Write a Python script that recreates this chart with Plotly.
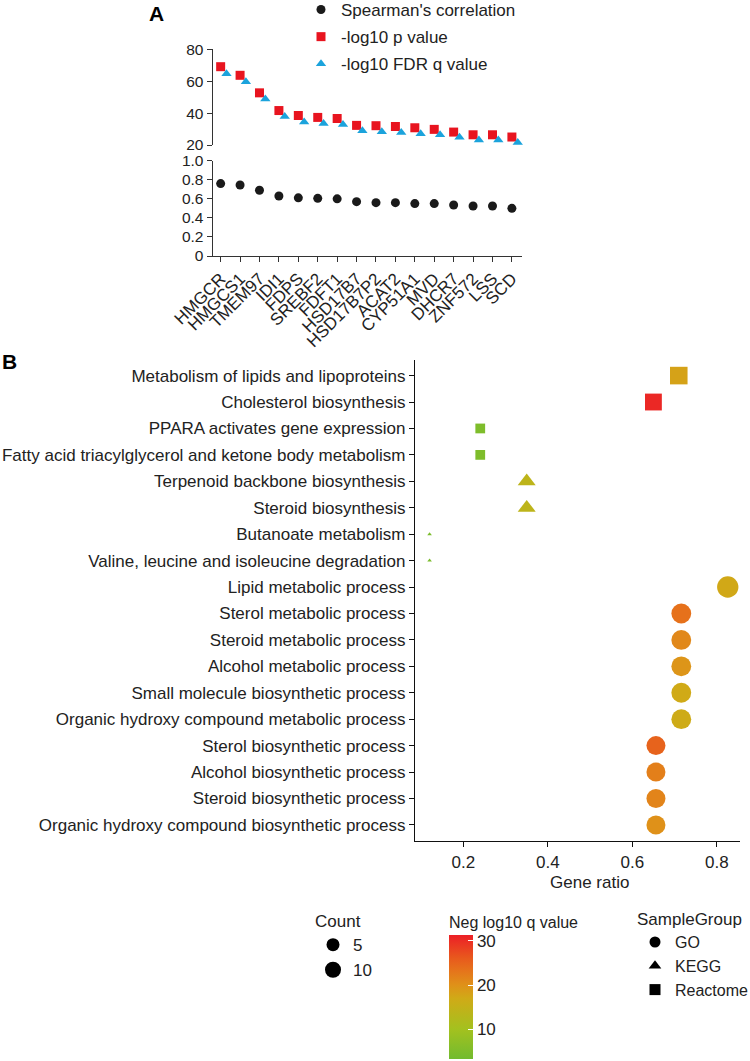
import plotly.graph_objects as go

W, H = 750, 1061
FONT = "Liberation Sans, Arial, sans-serif"
FS = 17

# ---------------- Panel A data ----------------
genes = ["HMGCR", "HMGCS1", "TMEM97", "IDI1", "FDPS", "SREBF2", "FDFT1", "HSD17B7",
         "HSD17B7P2", "ACAT2", "CYP51A1", "MVD", "DHCR7", "ZNF572", "LSS", "SCD"]
spearman = [0.76, 0.745, 0.69, 0.63, 0.61, 0.605, 0.60, 0.57,
            0.56, 0.56, 0.55, 0.55, 0.535, 0.525, 0.525, 0.50]
neglog_p = [69.1, 63.7, 52.7, 41.6, 38.5, 37.3, 36.6, 32.3,
            32.1, 31.6, 30.8, 29.8, 28.1, 26.4, 26.4, 25.0]
neglog_fdr = [64.6, 59.6, 48.8, 37.9, 34.4, 33.5, 32.9, 28.9,
              28.3, 27.9, 27.1, 26.4, 24.8, 23.1, 23.1, 21.6]

# ---------------- Panel B data ----------------
terms = ["Metabolism of lipids and lipoproteins", "Cholesterol biosynthesis",
         "PPARA activates gene expression", "Fatty acid triacylglycerol and ketone body metabolism",
         "Terpenoid backbone biosynthesis", "Steroid biosynthesis", "Butanoate metabolism",
         "Valine, leucine and isoleucine degradation", "Lipid metabolic process",
         "Sterol metabolic process", "Steroid metabolic process", "Alcohol metabolic process",
         "Small molecule biosynthetic process", "Organic hydroxy compound metabolic process",
         "Sterol biosynthetic process", "Alcohol biosynthetic process",
         "Steroid biosynthetic process", "Organic hydroxy compound biosynthetic process"]
groups = ["Reactome", "Reactome", "Reactome", "Reactome", "KEGG", "KEGG", "KEGG", "KEGG",
          "GO", "GO", "GO", "GO", "GO", "GO", "GO", "GO", "GO", "GO"]
gene_ratio = [0.71, 0.65, 0.24, 0.24, 0.35, 0.35, 0.12, 0.12, 0.826,
              0.716, 0.716, 0.716, 0.716, 0.716, 0.656, 0.656, 0.656, 0.656]
counts = [12, 11, 4, 4, 7, 7, 2, 2, 14, 12, 12, 12, 12, 12, 11, 11, 11, 11]
neg_log_q = [18.0, 30.5, 5.0, 5.0, 14.0, 14.0, 4.5, 4.5, 17.2,
             23.5, 21.0, 19.5, 17.0, 16.7, 25.0, 22.0, 21.5, 20.0]
count_legend = [5, 10]
group_order = ["GO", "KEGG", "Reactome"]
x_ticks_b = [0.2, 0.4, 0.6, 0.8]

# colour scale stops (value, colour)
cs_values = [3.3, 10, 14, 17, 20, 23, 26, 31.3]
cs_colors = ["#72BB2F", "#A3C11F", "#BDB41A", "#D0AA17", "#DF9119", "#E5761B", "#E85A1D", "#EC1F26"]
CMIN, CMAX = 3.3, 31.3
colorscale = [[(v - CMIN) / (CMAX - CMIN), c] for v, c in zip(cs_values, cs_colors)]


def fx(px):
    return px / W


def fy(py):
    return 1 - py / H


def size_of(c, r0=4.0, r1=22.0, cmin=2, cmax=14):
    return r0 + (r1 - r0) * ((c - cmin) / (cmax - cmin)) ** 0.5


symbols = {"GO": "circle", "KEGG": "triangle-up", "Reactome": "square"}
sym_scale = {"GO": 0.97, "KEGG": 1.0, "Reactome": 0.86}

fig = go.Figure()

# ---------------- Panel A traces ----------------
idx = list(range(len(genes)))
fig.add_trace(go.Scatter(x=idx, y=spearman, mode="markers", name="Spearman's correlation",
                         marker=dict(symbol="circle", size=9, color="#1a1a1a", opacity=1),
                         xaxis="x", yaxis="y", legend="legend", legendgroup="a1", cliponaxis=False))
fig.add_trace(go.Scatter(x=idx, y=neglog_p, mode="markers", name="-log10 p value",
                         marker=dict(symbol="square", size=9, color="#E8141F", opacity=1),
                         xaxis="x", yaxis="y2", legend="legend", legendgroup="a2", cliponaxis=False))
fig.add_trace(go.Scatter(x=[i + 0.3 for i in idx], y=neglog_fdr, mode="markers", name="-log10 FDR q value",
                         marker=dict(symbol="triangle-up", size=9, color="#1BA3DC", opacity=1),
                         xaxis="x", yaxis="y2", legend="legend", legendgroup="a3", cliponaxis=False))

# ---------------- Panel B traces ----------------
for g in group_order:
    sel = [i for i, gg in enumerate(groups) if gg == g]
    fig.add_trace(go.Scatter(
        x=[gene_ratio[i] for i in sel], y=[terms[i] for i in sel], mode="markers",
        marker=dict(symbol=symbols[g], size=[size_of(counts[i]) * sym_scale[g] for i in sel],
                    color=[neg_log_q[i] for i in sel], coloraxis="coloraxis",
                    line=dict(width=0), opacity=1),
        xaxis="x3", yaxis="y3", showlegend=False, cliponaxis=False, name=g))

# Count legend
for c in count_legend:
    fig.add_trace(go.Scatter(x=[None], y=[None], mode="markers", name=str(c),
                             marker=dict(symbol="circle", size=size_of(c), color="black", opacity=1),
                             xaxis="x3", yaxis="y3", legend="legend2", legendgroup="c" + str(c)))
# SampleGroup legend
for g in group_order:
    fig.add_trace(go.Scatter(x=[None], y=[None], mode="markers", name=g,
                             marker=dict(symbol=symbols[g], size=11, color="black", opacity=1),
                             xaxis="x3", yaxis="y3", legend="legend3", legendgroup="g" + g))

axis_line = dict(showline=True, linecolor="#333333", linewidth=1.3, ticks="outside",
                 ticklen=5, tickcolor="#333333", showgrid=False, zeroline=False, automargin=False,
                 tickfont=dict(family=FONT, size=FS, color="#222"))
axis_a_y = {**axis_line, "tickfont": dict(family=FONT, size=15.5, color="#222")}
axis_b = {**axis_line, "linecolor": "#111", "tickcolor": "#111"}

fig.update_layout(
    width=W, height=H, autosize=False, margin=dict(l=0, r=0, t=0, b=0, autoexpand=False),
    paper_bgcolor="white", plot_bgcolor="white",
    font=dict(family=FONT, size=FS, color="#222"),
    xaxis=dict(domain=[fx(212.7), fx(522)], range=[-0.41, 15.52], anchor="y",
               tickmode="array", tickvals=idx, ticktext=genes, tickangle=-45, **axis_line),
    yaxis=dict(domain=[fy(256), fy(160.7)], range=[0, 1.0], anchor="x",
               tickvals=[0, 0.2, 0.4, 0.6, 0.8, 1.0], ticktext=["0", "0.2", "0.4", "0.6", "0.8", "1.0"],
               **axis_a_y),
    yaxis2=dict(domain=[fy(145), fy(49.3)], range=[20, 80], anchor="x",
                tickvals=[20, 40, 60, 80], **axis_a_y),
    xaxis3=dict(domain=[fx(415), fx(740)], range=[0.0855, 0.855], anchor="y3",
                tickvals=x_ticks_b, ticktext=[str(v) for v in x_ticks_b], **axis_b),
    yaxis3=dict(domain=[fy(841.3), fy(360)], type="category",
                categoryorder="array", categoryarray=terms[::-1], range=[-0.62, 17.59],
                anchor="x3", **axis_b),
    coloraxis=dict(colorscale=colorscale, cmin=CMIN, cmax=CMAX,
                   colorbar=dict(title=dict(text="Neg log10 q value", side="top",
                                            font=dict(family=FONT, size=16, color="#222")),
                                 x=fx(449), xanchor="left", xpad=0,
                                 y=fy(1059), yanchor="bottom", ypad=0,
                                 thickness=24, thicknessmode="pixels",
                                 len=146, lenmode="pixels", outlinewidth=0,
                                 tickvals=[10, 20, 30], ticks="inside", ticklen=5,
                                 tickcolor="white", tickfont=dict(family=FONT, size=FS, color="#222"))),
    legend=dict(x=fx(301), y=fy(-8), xanchor="left", yanchor="top", bgcolor="rgba(0,0,0,0)",
                tracegroupgap=2, itemsizing="trace", font=dict(family=FONT, size=FS, color="#222")),
    legend2=dict(x=fx(313), y=fy(905), xanchor="left", yanchor="top", bgcolor="rgba(0,0,0,0)",
                 title=dict(text="Count", font=dict(family=FONT, size=FS, color="#222")),
                 tracegroupgap=0, itemsizing="trace", font=dict(family=FONT, size=FS, color="#222")),
    legend3=dict(x=fx(635), y=fy(903), xanchor="left", yanchor="top", bgcolor="rgba(0,0,0,0)",
                 title=dict(text="SampleGroup", font=dict(family=FONT, size=FS, color="#222")),
                 tracegroupgap=0, itemsizing="trace", font=dict(family=FONT, size=16, color="#222")),
    annotations=[
        dict(text="<b>A</b>", x=fx(147), y=fy(0), xref="paper", yref="paper", xanchor="left",
             yanchor="top", showarrow=False, font=dict(family=FONT, size=21, color="black")),
        dict(text="<b>B</b>", x=fx(0), y=fy(348), xref="paper", yref="paper", xanchor="left",
             yanchor="top", showarrow=False, font=dict(family=FONT, size=21, color="black")),
        dict(text="Gene ratio", x=fx(589), y=fy(882), xref="paper", yref="paper", xanchor="center",
             yanchor="middle", showarrow=False, font=dict(family=FONT, size=FS, color="#222")),
    ],
)

fig.write_html("out.html", config={"displayModeBar": False},
               post_script="document.body.style.margin='0';document.body.style.overflow='hidden';")
